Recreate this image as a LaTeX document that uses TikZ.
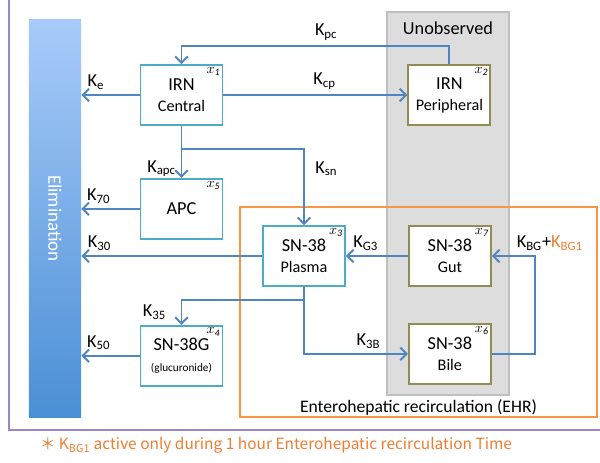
\documentclass[tikz,border=0pt]{standalone}
\usepackage{fontspec}
\setmainfont{Carlito}
\newfontfamily\notefont{Noto Sans CJK JP}
\usepackage{tikz}
\usetikzlibrary{arrows.meta,%
                shapes,positioning}
\usetikzlibrary{calc}

\definecolor{ArrowBlue}{HTML}{4F86C2}
\definecolor{BoxCyan}{HTML}{4BACC6}
\definecolor{BoxOlive}{HTML}{948A54}
\definecolor{EhrOrange}{HTML}{F79646}
\definecolor{NoteOrange}{HTML}{ED7D31}
\definecolor{FrameLine}{HTML}{9C86C4}
\definecolor{GrayFill}{HTML}{DDDDDD}
\definecolor{GrayLine}{HTML}{BFBFBF}
\definecolor{ElimTop}{HTML}{A8CBF9}
\definecolor{ElimBottom}{HTML}{4A8FD6}

\newcommand{\rate}[1]{K\textsubscript{#1}}

\begin{document}
\begin{tikzpicture}[x=0.025cm, y=-0.025cm]
  \useasboundingbox (0,0) rectangle (600,462);
  \tikzset{CentralStyle/.style = {draw=BoxCyan, line width=1.3pt, shape=rectangle, fill=white, minimum width=2.05cm, minimum height=1.5cm, inner sep=0pt, align=center, text=black, font=\fontsize{13}{15}\selectfont}}
  \tikzset{HiddenStyle/.style = {CentralStyle, draw=BoxOlive}}
  \tikzset{IndexStyle/.style = {label={[anchor=north east, inner sep=2pt]north east:$x_{\mathit{#1}}$}}}
  \tikzset{EdgeStyle/.style   = {line width=1.4pt, draw=ArrowBlue, -{Straight Barb[length=4.5pt,width=9pt]}}}
  \tikzset{RateStyle/.style   = {font=\fontsize{13}{15}\selectfont, text=black}}

  % frame, elimination and the two regions
  \draw[FrameLine, line width=1.2pt] (9,0) -- (9,430) -- (600,430);
  \node(0)[minimum width=1.3cm, minimum height=9.925cm, top color=ElimTop, bottom color=ElimBottom, inner sep=0pt] at (55,218.5) {};
  \node(E)[rotate=-90, text=white, font=\fontsize{13.5}{15}\selectfont] at (0) {Elimination};
  \node(U)[draw=GrayLine, fill=GrayFill, line width=1pt, minimum width=3.05cm, minimum height=9.575cm] at (448,203.5) {};
  \node(UT)[font=\fontsize{13}{15}\selectfont] at (448,28) {Unobserved};
  \node(EHR)[draw=EhrOrange, line width=1.3pt, minimum width=8.925cm, minimum height=5.25cm] at (418.5,312) {};
  \node(EHRT)[anchor=south, font=\fontsize{12.5}{14}\selectfont, inner sep=2pt] at (EHR.south) {Enterohepatic recirculation (EHR)};

  % compartments
  \node(1)[CentralStyle, IndexStyle=1] at (181.5,95) {IRN\\{\fontsize{11.5}{13}\selectfont Central}};
  \node(2)[HiddenStyle, IndexStyle=2, right=4.6cm of 1] {IRN\\{\fontsize{11.5}{13}\selectfont Peripheral}};
  \node(5)[CentralStyle, IndexStyle=5, below=1.3cm of 1] {APC};
  \node(4)[CentralStyle, IndexStyle=4, below=2.125cm of 5] {SN-38G\\{\fontsize{8}{10}\selectfont (glucuronide)}};
  \node(3)[CentralStyle, IndexStyle=3] at (304,256) {SN-38\\{\fontsize{11.5}{13}\selectfont Plasma}};
  \node(7)[HiddenStyle, IndexStyle=7, right=1.55cm of 3] {SN-38\\{\fontsize{11.5}{13}\selectfont Gut}};
  \node(6)[HiddenStyle, IndexStyle=6, below=0.9cm of 7] {SN-38\\{\fontsize{11.5}{13}\selectfont Bile}};

  % transfers
  \draw[EdgeStyle](1) to node[RateStyle, above, pos=0.75]{\rate{e}} (1 -| 0.east);
  \draw[EdgeStyle](5) to node[RateStyle, above, pos=0.7]{\rate{70}} (5 -| 0.east);
  \draw[EdgeStyle](3) to node[RateStyle, above, pos=0.9]{\rate{30}} (3 -| 0.east);
  \draw[EdgeStyle](4) to node[RateStyle, above, pos=0.7]{\rate{50}} (4 -| 0.east);
  \draw[EdgeStyle](1) to node[RateStyle, above, pos=0.55]{\rate{cp}} (2);
  \draw[EdgeStyle](2.north) -- ++(0,-18) -| node[RateStyle, above, pos=0.23]{\rate{pc}} (1.north);
  \draw[EdgeStyle](1) to node[RateStyle, left, pos=0.82]{\rate{apc}} (5);
  \draw[EdgeStyle](1.south) ++(0,23) -| node[RateStyle, right=4pt, pos=0.63]{\rate{sn}} (3);
  \draw[EdgeStyle](7) to node[RateStyle, above, pos=0.68]{\rate{G3}} (3);
  \draw[EdgeStyle](3) |- node[RateStyle, above, pos=0.81]{\rate{3B}} (6);
  \draw[EdgeStyle](3.south) ++(0,13) -| node[RateStyle, left=7pt, pos=0.75]{\rate{35}} (4);
  \draw[EdgeStyle](6.east) -- ++(43,0) |- node[RateStyle, above, pos=0.5, xshift=0.375cm]{\rate{BG}+\textcolor{NoteOrange}{\rate{BG1}}} (7);

  % note
  \node(N)[text=NoteOrange, font=\notefont\fontsize{11}{13}\selectfont] at (276,445) {＊ \rate{BG1} active only during 1 hour Enterohepatic recirculation Time};
\end{tikzpicture}
\end{document}
